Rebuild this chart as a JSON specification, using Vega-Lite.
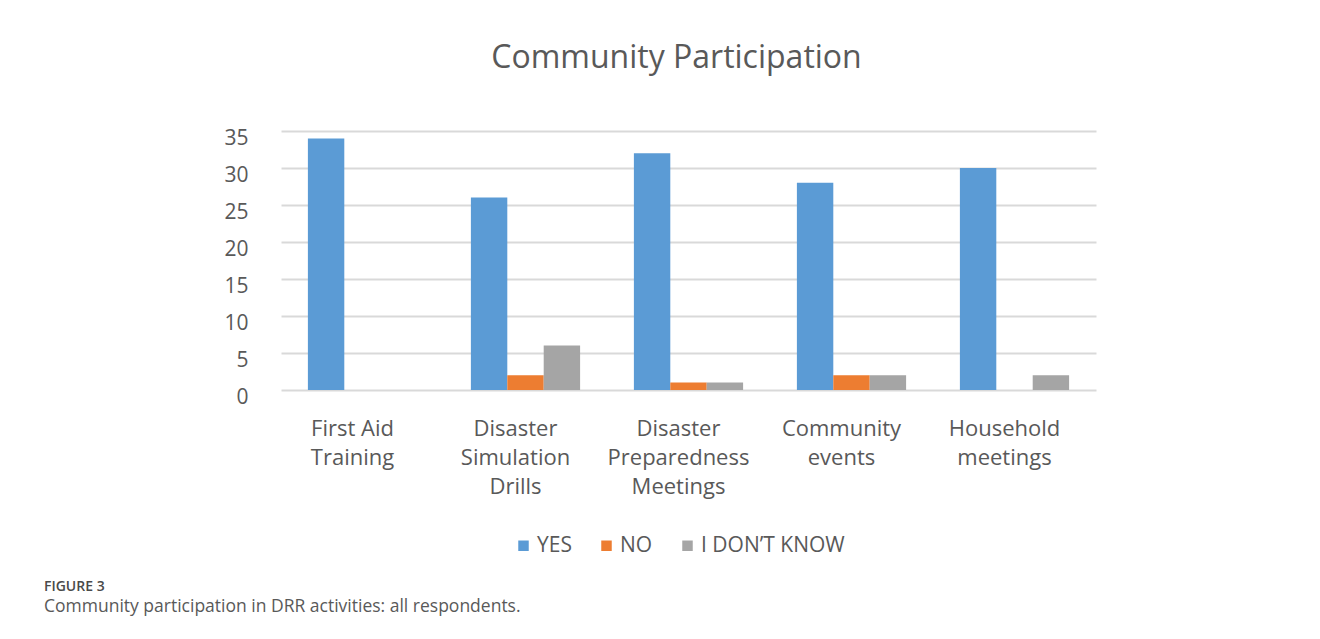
{
  "$schema": "https://vega.github.io/schema/vega-lite/v6.json",
  "background": "white",
  "autosize": {"type": "pad"},
  "padding": {"left": 43, "top": 42, "right": 10, "bottom": 20},
  "config": {
    "view": {"stroke": null},
    "font": "Open Sans"
  },
  "title": {
    "text": "FIGURE 3",
    "subtitle": "Community participation in DRR activities: all respondents.",
    "orient": "bottom",
    "anchor": "start",
    "dx": -180,
    "offset": 24,
    "font": "Open Sans",
    "fontSize": 14,
    "fontWeight": 600,
    "color": "#4a4a4a",
    "subtitleFont": "Open Sans",
    "subtitleFontSize": 17.5,
    "subtitleColor": "#595959",
    "subtitlePadding": 4
  },
  "resolve": {"legend": {"color": "independent"}},
  "vconcat": [
    {
      "title": {
        "text": "Community Participation",
        "font": "Open Sans",
        "fontSize": 32,
        "fontWeight": "normal",
        "color": "#595959",
        "anchor": "middle",
        "frame": "group",
        "dx": -12,
        "offset": 52
      },
      "width": 815,
      "height": 259,
      "data": {
        "values": [
          {"activity": "First Aid Training", "response": "YES", "count": 34},
          {"activity": "First Aid Training", "response": "NO", "count": 0},
          {"activity": "First Aid Training", "response": "I DON’T KNOW", "count": 0},
          {"activity": "Disaster Simulation Drills", "response": "YES", "count": 26},
          {"activity": "Disaster Simulation Drills", "response": "NO", "count": 2},
          {"activity": "Disaster Simulation Drills", "response": "I DON’T KNOW", "count": 6},
          {"activity": "Disaster Preparedness Meetings", "response": "YES", "count": 32},
          {"activity": "Disaster Preparedness Meetings", "response": "NO", "count": 1},
          {"activity": "Disaster Preparedness Meetings", "response": "I DON’T KNOW", "count": 1},
          {"activity": "Community events", "response": "YES", "count": 28},
          {"activity": "Community events", "response": "NO", "count": 2},
          {"activity": "Community events", "response": "I DON’T KNOW", "count": 2},
          {"activity": "Household meetings", "response": "YES", "count": 30},
          {"activity": "Household meetings", "response": "NO", "count": 0},
          {"activity": "Household meetings", "response": "I DON’T KNOW", "count": 2}
        ]
      },
      "mark": {"type": "bar"},
      "encoding": {
        "x": {
          "field": "activity",
          "type": "nominal",
          "sort": ["First Aid Training", "Disaster Simulation Drills", "Disaster Preparedness Meetings", "Community events", "Household meetings"],
          "scale": {"paddingInner": 0.33, "paddingOuter": 0.165},
          "axis": {
            "title": null,
            "labelAngle": 0,
            "labelExpr": "datum.value == 'First Aid Training' ? ['First Aid', 'Training'] : split(datum.value, ' ')",
            "labelFont": "Open Sans",
            "labelFontSize": 22,
            "labelColor": "#595959",
            "labelLineHeight": 29,
            "labelPadding": 28,
            "labelOffset": -10,
            "ticks": false,
            "domain": false
          }
        },
        "xOffset": {
          "field": "response",
          "type": "nominal",
          "sort": ["YES", "NO", "I DON’T KNOW"],
          "scale": {"paddingInner": 0, "paddingOuter": 0}
        },
        "y": {
          "field": "count",
          "type": "quantitative",
          "scale": {"domain": [0, 35]},
          "axis": {
            "title": null,
            "values": [0, 5, 10, 15, 20, 25, 30, 35],
            "ticks": false,
            "domain": false,
            "gridColor": "#D9D9D9",
            "gridWidth": 2,
            "labelFont": "Open Sans",
            "labelFontSize": 21,
            "labelColor": "#595959",
            "labelPadding": 33,
            "labelOffset": 7
          }
        },
        "color": {
          "field": "response",
          "type": "nominal",
          "scale": {
            "domain": ["YES", "NO", "I DON’T KNOW"],
            "range": ["#5B9BD5", "#ED7D31", "#A5A5A5"]
          },
          "legend": {
            "orient": "none",
            "legendX": 232,
            "legendY": 404,
            "direction": "horizontal",
            "title": null,
            "symbolType": "square",
            "symbolSize": 110,
            "symbolStrokeWidth": 0,
            "labelFont": "Open Sans",
            "labelFontSize": 21,
            "labelColor": "#595959",
            "labelOffset": 3,
            "columnPadding": 24
          }
        }
      }
    }
  ]
}
